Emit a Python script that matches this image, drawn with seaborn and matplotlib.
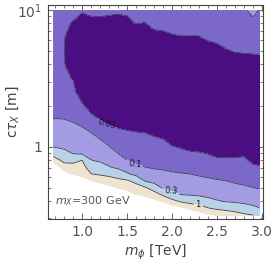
import numpy as np
import matplotlib
matplotlib.use("Agg")
import matplotlib.pyplot as plt
from matplotlib.ticker import NullFormatter
import seaborn as sns

# scan grid: m_phi columns [TeV], c tau rows [m] from top (10 m) down
m_phi = [0.68, 0.8, 0.9, 1.0, 1.1, 1.2, 1.3, 1.4, 1.5, 1.6, 1.7, 1.8,
         1.9, 2.0, 2.1, 2.2, 2.3, 2.4, 2.5, 2.6, 2.7, 2.8, 2.9, 2.97]
c_tau = [10, 7.94, 6.31, 5.01, 3.98, 3.16, 2.51, 2.0, 1.58, 1.26, 1.0,
         0.891, 0.794, 0.708, 0.631, 0.562, 0.501, 0.447, 0.398, 0.355, 0.316]

# value, one list per m_phi column (same order as c_tau)
frac_cols = [
    [0.050, 0.050, 0.050, 0.050, 0.050, 0.050, 0.050, 0.061, 0.104, 0.175, 0.297, 0.557, 2.12, 7.4, 9.5, 9.5, 9.5, 9.5, 9.5, 9.5, 9.5],
    [0.060, 0.0475, 0.0345, 0.0345, 0.0345, 0.0357, 0.0449, 0.060, 0.102, 0.159, 0.261, 0.385, 0.719, 1.83, 5.3, 9.5, 9.5, 9.5, 9.5, 9.5, 9.5],
    [0.0696, 0.0243, 0.0085, 0.0053, 0.010, 0.0286, 0.0429, 0.0628, 0.0906, 0.145, 0.235, 0.297, 0.736, 1.5, 2.83, 7.5, 9.5, 9.5, 9.5, 9.5, 9.5],
    [0.0378, 0.0132, 0.0053, 0.0053, 0.0053, 0.0053, 0.0139, 0.0361, 0.073, 0.128, 0.21, 0.267, 1.03, 1.57, 2.38, 4.75, 9.5, 9.5, 9.5, 9.5, 9.5],
    [0.0492, 0.017, 0.006, 0.0053, 0.0053, 0.0053, 0.006, 0.017, 0.0454, 0.103, 0.177, 0.233, 0.31, 0.551, 1.04, 3.4, 9.1, 9.5, 9.5, 9.5, 9.5],
    [0.0515, 0.0178, 0.0063, 0.0053, 0.0053, 0.0053, 0.0053, 0.010, 0.0286, 0.0721, 0.145, 0.196, 0.267, 0.447, 0.865, 2.22, 5.9, 9.5, 9.5, 9.5, 9.5],
    [0.046, 0.0159, 0.0056, 0.0053, 0.0053, 0.0053, 0.0053, 0.0071, 0.0202, 0.0481, 0.104, 0.148, 0.215, 0.321, 0.745, 1.71, 4.05, 9.5, 9.5, 9.5, 9.5],
    [0.0424, 0.0148, 0.0053, 0.0053, 0.0053, 0.0053, 0.0053, 0.0059, 0.0166, 0.0392, 0.0721, 0.101, 0.157, 0.249, 0.551, 1.35, 2.8, 7.2, 9.5, 9.5, 9.5],
    [0.0475, 0.0166, 0.0058, 0.0053, 0.0053, 0.0053, 0.0053, 0.0053, 0.0148, 0.0353, 0.0585, 0.0754, 0.102, 0.179, 0.344, 1.18, 2.17, 4.75, 9.5, 9.5, 9.5],
    [0.0754, 0.0303, 0.0105, 0.0053, 0.0053, 0.0053, 0.0053, 0.0053, 0.0123, 0.0321, 0.0509, 0.0643, 0.0807, 0.116, 0.23, 0.727, 1.59, 3.1, 8.4, 9.5, 9.5],
    [0.0754, 0.0273, 0.0096, 0.0053, 0.0053, 0.0053, 0.0053, 0.0053, 0.0105, 0.0303, 0.0475, 0.0599, 0.0763, 0.101, 0.167, 0.29, 1.14, 2.38, 6.0, 9.5, 9.5],
    [0.0754, 0.0486, 0.017, 0.0059, 0.0053, 0.0053, 0.0053, 0.0053, 0.009, 0.0258, 0.0449, 0.0565, 0.0721, 0.0906, 0.137, 0.217, 0.539, 1.73, 4.24, 9.5, 9.5],
    [0.0754, 0.0527, 0.0182, 0.0064, 0.0053, 0.0053, 0.0053, 0.0053, 0.0078, 0.0219, 0.0424, 0.054, 0.0688, 0.0875, 0.122, 0.183, 0.27, 0.789, 2.9, 7.8, 9.5],
    [0.0754, 0.0672, 0.0235, 0.0082, 0.0053, 0.0053, 0.0053, 0.0053, 0.0053, 0.0115, 0.0318, 0.0434, 0.0592, 0.0807, 0.111, 0.159, 0.225, 0.381, 1.5, 5.3, 9.5],
    [0.0754, 0.0754, 0.027, 0.0093, 0.0053, 0.0053, 0.0053, 0.0053, 0.0053, 0.0095, 0.027, 0.0392, 0.0546, 0.0754, 0.105, 0.148, 0.21, 0.297, 0.885, 3.78, 9.5],
    [0.0754, 0.0754, 0.027, 0.0093, 0.0053, 0.0053, 0.0053, 0.0053, 0.0053, 0.0078, 0.0224, 0.0349, 0.0498, 0.0704, 0.101, 0.14, 0.196, 0.277, 0.648, 2.49, 7.1],
    [0.0754, 0.0754, 0.027, 0.0093, 0.0053, 0.0053, 0.0053, 0.0053, 0.0053, 0.0073, 0.0207, 0.0332, 0.0465, 0.065, 0.0906, 0.128, 0.181, 0.255, 0.557, 1.75, 5.0],
    [0.0754, 0.0754, 0.0396, 0.0139, 0.0053, 0.0053, 0.0053, 0.0053, 0.0053, 0.006, 0.017, 0.029, 0.0415, 0.0585, 0.0826, 0.118, 0.167, 0.235, 0.403, 1.06, 3.56],
    [0.0754, 0.0754, 0.0486, 0.017, 0.006, 0.0053, 0.0053, 0.0053, 0.0053, 0.0053, 0.0135, 0.023, 0.0361, 0.0515, 0.0747, 0.108, 0.152, 0.217, 0.325, 0.789, 2.83],
    [0.0754, 0.0754, 0.0721, 0.0252, 0.0088, 0.0053, 0.0053, 0.0053, 0.0053, 0.0053, 0.0135, 0.023, 0.0353, 0.0492, 0.0688, 0.101, 0.139, 0.198, 0.286, 0.694, 2.03],
    [0.0754, 0.0754, 0.0754, 0.0332, 0.0118, 0.0053, 0.0053, 0.0053, 0.0053, 0.0053, 0.0142, 0.0238, 0.0357, 0.0481, 0.065, 0.0885, 0.125, 0.181, 0.264, 0.605, 1.57],
    [0.0754, 0.0754, 0.0754, 0.0361, 0.0126, 0.0053, 0.0053, 0.0053, 0.0053, 0.0053, 0.015, 0.0252, 0.0361, 0.0475, 0.0628, 0.0826, 0.112, 0.165, 0.241, 0.463, 1.22],
    [0.189, 0.0572, 0.0533, 0.0383, 0.0135, 0.0053, 0.0053, 0.0053, 0.0053, 0.0053, 0.0084, 0.014, 0.0238, 0.0361, 0.0509, 0.0721, 0.102, 0.148, 0.22, 0.368, 1.01],
    [0.0896, 0.0672, 0.0599, 0.0406, 0.0142, 0.0053, 0.0053, 0.0053, 0.0053, 0.0053, 0.0074, 0.0123, 0.0209, 0.0337, 0.047, 0.0666, 0.0938, 0.139, 0.205, 0.31, 0.826],
]

line_levels = [0.03, 0.1, 0.3, 1.0]
band_edges = [0.0001, 0.03, 0.1, 0.3, 1.0, 3.0]
band_colors = ["#4b0e82", "#7b68c8", "#a39ce2", "#bad2e8", "#eee4d0"]
label_spots = [(1.27, 1.40), (1.59, 0.735), (1.99, 0.451), (2.29, 0.362)]

sns.set_theme(style="ticks")
plt.rcParams["font.family"] = ["DejaVu Sans"]

Z = np.log10(np.array(frac_cols).T)

fig = plt.figure(figsize=(2.74, 2.65), dpi=100)
ax = fig.add_axes([0.175, 0.1736, 0.785, 0.8075])

ax.contourf(m_phi, c_tau, Z, levels=np.log10(band_edges), colors=band_colors)
cs = ax.contour(m_phi, c_tau, Z, levels=np.log10(line_levels),
                colors="#3c3c55", linewidths=0.6, linestyles="solid")
ax.clabel(cs, inline=True, inline_spacing=2, fontsize=6, colors="#1a1a1a",
          fmt=lambda v: f"{10 ** v:.2g}", manual=label_spots)

ax.set_yscale("log")
ax.set_xlim(0.622, 3.011)
ax.set_ylim(0.296, 10.9)

ax.set_xticks([1.0, 1.5, 2.0, 2.5, 3.0])
ax.set_xticks(np.round(np.arange(0.7, 3.01, 0.1), 2), minor=True)
ax.set_yticks([1, 10], labels=["1", r"$\mathregular{10^1}$"])
ax.set_yticks([0.3, 0.4, 0.5, 0.6, 0.7, 0.8, 0.9, 2, 3, 4, 5, 6, 7, 8, 9], minor=True)
ax.yaxis.set_minor_formatter(NullFormatter())

ax.tick_params(which="both", direction="in", top=True, right=True,
               color="#666666", labelcolor="#555555", labelsize=10, pad=4)
ax.tick_params(which="major", length=4.5, width=0.7)
ax.tick_params(which="minor", length=2.2, width=0.6)
for s in ax.spines.values():
    s.set_color("#444444")
    s.set_linewidth(0.8)

ax.set_xlabel(r"$m_\phi$ [TeV]", fontsize=10, color="#444444", labelpad=3)
ax.set_ylabel(r"c$\tau_X$ [m]", fontsize=10, color="#444444")
ax.yaxis.set_label_coords(-0.125, 0.5)
ax.text(0.7, 0.40, r"$m_X$=300 GeV", fontsize=8, color="#555555", va="center")

fig.savefig("out.png", dpi=100)
